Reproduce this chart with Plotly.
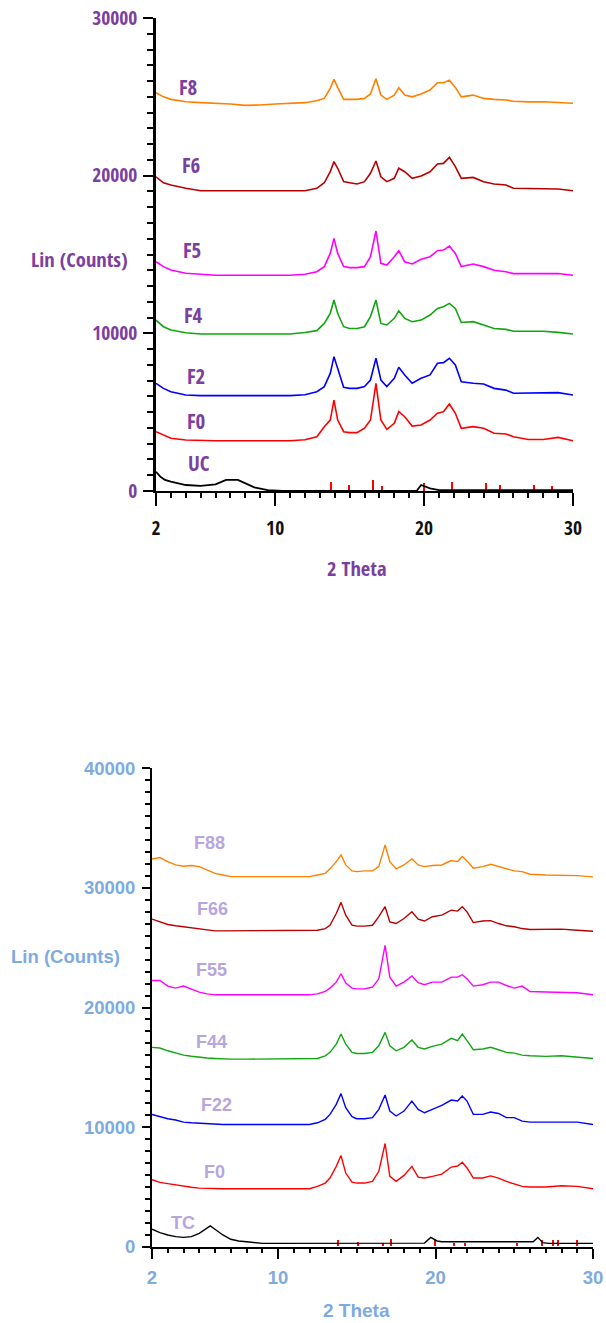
import plotly.graph_objects as go

# ---------------- top panel data (2 Theta vs Lin Counts) ----------------
TOP_X = [2, 2.5, 3, 4, 5, 6, 7, 8, 9, 10, 11, 12, 12.8, 13.3, 13.7, 13.95, 14.2, 14.6, 15, 15.5,
         16, 16.4, 16.77, 17.1, 17.5, 18, 18.3, 18.7, 19.2, 19.8, 20.4, 20.9, 21.3, 21.7, 22.1, 22.5,
         23.3, 24, 24.7, 25.5, 26, 27, 28, 29, 30]

top_f8 = [25260, 25000, 24840, 24690, 24630, 24590, 24550, 24460, 24480, 24550,
          24570, 24630, 24750, 24900, 25540, 26110, 25600, 24840, 24840, 24840,
          24900, 25180, 26150, 25110, 24840, 25110, 25580, 25110, 25000, 25180,
          25430, 25890, 25890, 26060, 25600, 25000, 25110, 24900, 24840, 24800,
          24720, 24680, 24690, 24630, 24590]
top_f6 = [19930, 19550, 19410, 19200, 19045, 19045, 19045, 19045, 19045, 19045,
          19045, 19045, 19200, 19550, 20250, 20890, 20470, 19620, 19550, 19470,
          19620, 20150, 20930, 19930, 19620, 19830, 20470, 20250, 19830, 19980,
          20250, 20740, 20780, 21160, 20570, 19830, 19890, 19620, 19470, 19410,
          19200, 19180, 19200, 19150, 19045]
top_f5 = [14540, 14230, 14020, 13810, 13750, 13680, 13680, 13680, 13680, 13680,
          13680, 13750, 13910, 14230, 15070, 16020, 15070, 14230, 14170, 14170,
          14230, 14860, 16490, 14440, 14330, 14860, 15240, 14540, 14400, 14700,
          14860, 15240, 15280, 15540, 15070, 14230, 14400, 14230, 14000, 13910,
          13790, 13790, 13790, 13790, 13680]
top_f4 = [10840, 10420, 10210, 10040, 9960, 9960, 9960, 9920, 9920, 9960,
          9960, 10050, 10170, 10630, 11270, 12110, 11270, 10420, 10310, 10310,
          10420, 11060, 12110, 10630, 10530, 10950, 11430, 10950, 10740, 10840,
          11160, 11580, 11690, 11900, 11580, 10690, 10740, 10530, 10310, 10250,
          10130, 10130, 10130, 10060, 9960]
top_f2 = [6830, 6510, 6300, 6090, 6050, 6050, 6050, 6050, 6050, 6050,
          6050, 6100, 6300, 6620, 7460, 8520, 7780, 6580, 6510, 6510,
          6620, 7040, 8420, 7040, 6620, 7150, 7850, 7360, 6830, 7150,
          7360, 8100, 8140, 8420, 7990, 6930, 6830, 6790, 6510, 6400,
          6200, 6200, 6200, 6240, 6090]
top_f0 = [3760, 3550, 3340, 3230, 3190, 3190, 3190, 3190, 3190, 3190,
          3190, 3250, 3440, 4080, 4500, 5770, 4500, 3760, 3700, 3700,
          3980, 4500, 6830, 4500, 3910, 4290, 5030, 4710, 4120, 4190,
          4500, 4930, 5030, 5520, 4930, 3980, 4080, 3980, 3660, 3620,
          3440, 3270, 3270, 3400, 3190]
UC_X = [2, 2.3, 2.6, 3, 4, 5, 6, 6.7, 7.5, 8, 8.6, 9.5, 10.5, 19.5, 19.8, 20.4, 21, 30]
top_uc = [1220, 900, 700, 590, 380, 320, 420, 700, 700, 490, 230, 60, 0, 0, 380, 170, 60, 60]
TOP_STICK_X = [13.8, 14.96, 16.6, 17.2, 20.0, 21.9, 24.2, 25.1, 27.4, 28.6]
TOP_STICK_H = [600, 400, 700, 300, 500, 600, 500, 400, 350, 300]

TOP_LABELS = ["F8", "F6", "F5", "F4", "F2", "F0", "UC"]
TOP_LABEL_X = [4.15, 4.35, 4.42, 4.49, 4.69, 4.69, 4.89]
TOP_LABEL_Y = [25620, 20670, 15290, 11180, 7310, 4440, 1760]

# ---------------- bottom panel data ----------------
BOT_X = [2, 2.5, 3, 3.5, 4, 4.5, 5, 5.5, 6, 6.5, 7, 8, 9, 10, 11, 12, 12.5, 13, 13.3, 13.7,
         14.0, 14.3, 14.7, 15, 15.5, 16, 16.4, 16.8, 17.1, 17.5, 18, 18.5, 18.9, 19.3, 19.8, 20.4,
         21.0, 21.4, 21.7, 22.0, 22.4, 23, 23.5, 24, 24.5, 25, 25.5, 26, 27, 28, 29, 30]

bot_f88 = [32420, 32540, 32200, 31920, 31810, 31870, 31780, 31500, 31220, 31080,
           30940, 30940, 30940, 30940, 30940, 30940, 31080, 31220, 31590, 32200,
           32760, 31920, 31420, 31360, 31420, 31420, 31780, 33600, 32200, 31590,
           31920, 32420, 31920, 31780, 31870, 31920, 32290, 32200, 32620, 32260,
           31640, 31780, 31980, 31780, 31590, 31420, 31360, 31140, 31080, 31080,
           31030, 30920]
bot_f66 = [27390, 27160, 26940, 26830, 26750, 26680, 26600, 26460, 26410, 26410,
           26410, 26410, 26410, 26410, 26410, 26410, 26460, 26600, 26880, 27860,
           28790, 27720, 26880, 26800, 26800, 26880, 27590, 28430, 27160, 27020,
           27440, 28000, 27390, 27230, 27590, 27720, 28140, 28060, 28430, 28000,
           27100, 27230, 27260, 27020, 26830, 26750, 26600, 26520, 26520, 26550,
           26460, 26380]
bot_f55 = [22260, 22260, 21790, 21620, 21790, 21560, 21290, 21140, 21060, 21060,
           21060, 21060, 21060, 21060, 21060, 21060, 21140, 21340, 21620, 22120,
           22820, 22040, 21620, 21560, 21560, 21710, 22400, 25200, 22540, 21790,
           22120, 22630, 22070, 21900, 22120, 22120, 22540, 22540, 22740, 22400,
           21790, 21900, 22120, 22120, 21840, 21620, 21790, 21340, 21290, 21290,
           21230, 21060]
bot_f44 = [16670, 16610, 16380, 16190, 16020, 15920, 15830, 15780, 15740, 15700,
           15680, 15680, 15680, 15680, 15680, 15680, 15740, 15960, 16250, 16940,
           17780, 16940, 16250, 16160, 16160, 16250, 16800, 17920, 16800, 16380,
           16670, 17280, 16670, 16530, 16750, 16940, 17420, 17230, 17780, 17230,
           16470, 16530, 16670, 16470, 16250, 16190, 16020, 15960, 15910, 15960,
           15830, 15740]
bot_f22 = [11060, 10870, 10700, 10590, 10420, 10360, 10310, 10260, 10220, 10220,
           10220, 10220, 10220, 10220, 10220, 10220, 10360, 10650, 11060, 11900,
           12800, 11620, 10870, 10700, 10700, 10790, 11480, 12690, 11340, 10930,
           11340, 12180, 11480, 11200, 11480, 11820, 12260, 12180, 12600, 12180,
           11060, 11060, 11260, 11140, 10790, 10790, 10500, 10420, 10420, 10450,
           10420, 10220]
bot_f0 = [5600, 5380, 5270, 5150, 5040, 4970, 4900, 4870, 4850, 4850,
          4850, 4850, 4850, 4850, 4850, 4850, 5040, 5320, 5740, 6720,
          7620, 6160, 5400, 5320, 5320, 5460, 6300, 8630, 5880, 5460,
          5960, 6720, 5820, 5740, 5880, 6070, 6660, 6750, 7060, 6580,
          5740, 5740, 5920, 5740, 5460, 5270, 5040, 4990, 4990, 5090,
          5040, 4850]
TC_X = [2.0, 2.5, 3, 3.5, 4, 4.5, 5, 5.5, 5.7, 6, 6.5, 7, 7.5, 8, 9,
        19.3, 19.7, 20.1, 20.4, 26.2, 26.5, 26.8, 27.2, 30]
bot_tc = [1460, 1180, 980, 840, 780, 840, 1120, 1540, 1740, 1460, 980, 620, 480, 420, 280,
          300, 780, 480, 420, 420, 780, 340, 280, 280]
BOT_STICK_X = [13.8, 15.1, 16.7, 17.2, 20.0, 21.2, 21.9, 25.2, 26.8, 27.5, 27.8, 29.0]
BOT_STICK_H = [500, 400, 300, 600, 500, 300, 300, 300, 500, 500, 500, 500]

BOT_LABELS = ["F88", "F66", "F55", "F44", "F22", "F0", "TC"]
BOT_LABEL_X = [5.62, 5.84, 5.75, 5.75, 6.11, 5.96, 3.99]
BOT_LABEL_Y = [33740, 28240, 23100, 17110, 11820, 6270, 1960]

X_TICKS = [2, 10, 20, 30]
X_MID_TICKS = [5, 15, 25]
TOP_Y_TICKS = [0, 10000, 20000, 30000]
BOT_Y_TICKS = [0, 10000, 20000, 30000, 40000]

# ---------------- styles ----------------
W, H = 606, 1323
ORANGE, DARKRED, MAGENTA, GREEN, BLUE, RED, BLACK = (
    "#FF8000", "#B80000", "#FF00FF", "#11A611", "#0000FF", "#FF0000", "#000000")
PURPLE = "#7B3FA0"
LIGHTBLUE = "#7EAAE2"
LIGHTPURPLE = "#B7A6DD"
NARROW = "Liberation Sans Narrow, Noto Sans Condensed, Open Sans Condensed, DejaVu Sans Condensed, sans-serif"
WIDE = "Liberation Sans, Arial, sans-serif"
TOPSIZE = 19.5

fig = go.Figure()

top_series = [(top_f8, ORANGE), (top_f6, DARKRED), (top_f5, MAGENTA), (top_f4, GREEN),
              (top_f2, BLUE), (top_f0, RED)]
for ys, col in top_series:
    fig.add_trace(go.Scatter(x=TOP_X, y=ys, mode="lines", line=dict(color=col, width=1.6),
                             xaxis="x", yaxis="y", showlegend=False, hoverinfo="skip"))
fig.add_trace(go.Scatter(x=UC_X, y=top_uc, mode="lines", line=dict(color=BLACK, width=1.8),
                         xaxis="x", yaxis="y", showlegend=False, hoverinfo="skip"))
fig.add_trace(go.Bar(x=TOP_STICK_X, y=TOP_STICK_H, width=0.1, marker=dict(color=RED, line=dict(width=0)),
                     xaxis="x", yaxis="y", showlegend=False, hoverinfo="skip"))

bot_series = [(bot_f88, ORANGE), (bot_f66, DARKRED), (bot_f55, MAGENTA), (bot_f44, GREEN),
              (bot_f22, BLUE), (bot_f0, RED)]
for ys, col in bot_series:
    fig.add_trace(go.Scatter(x=BOT_X, y=ys, mode="lines", line=dict(color=col, width=1.4),
                             xaxis="x2", yaxis="y2", showlegend=False, hoverinfo="skip"))
fig.add_trace(go.Scatter(x=TC_X, y=bot_tc, mode="lines", line=dict(color=BLACK, width=1.4),
                         xaxis="x2", yaxis="y2", showlegend=False, hoverinfo="skip"))
fig.add_trace(go.Bar(x=BOT_STICK_X, y=BOT_STICK_H, width=0.1, marker=dict(color=RED, line=dict(width=0)),
                     xaxis="x2", yaxis="y2", showlegend=False, hoverinfo="skip"))

annotations = []
for t, x, y in zip(TOP_LABELS, TOP_LABEL_X, TOP_LABEL_Y):
    annotations.append(dict(text=t, x=x, y=y, xref="x", yref="y", showarrow=False,
                            xanchor="center", yanchor="middle",
                            font=dict(family=NARROW, size=21, color=PURPLE, weight="bold")))
for t, x, y in zip(BOT_LABELS, BOT_LABEL_X, BOT_LABEL_Y):
    annotations.append(dict(text=t, x=x, y=y, xref="x2", yref="y2", showarrow=False,
                            xanchor="center", yanchor="middle",
                            font=dict(family=WIDE, size=18, color=LIGHTPURPLE, weight="bold")))

annotations += [
    dict(text="Lin (Counts)", x=80 / W, y=1 - 259 / H, xref="paper", yref="paper", showarrow=False,
         xanchor="center", yanchor="middle",
         font=dict(family=NARROW, size=20.5, color=PURPLE, weight="bold")),
    dict(text="2 Theta", x=356 / W, y=1 - 568 / H, xref="paper", yref="paper", showarrow=False,
         xanchor="center", yanchor="middle",
         font=dict(family=NARROW, size=20.5, color=PURPLE, weight="bold")),
    dict(text="Lin (Counts)", x=65 / W, y=1 - 956 / H, xref="paper", yref="paper", showarrow=False,
         xanchor="center", yanchor="middle",
         font=dict(family=WIDE, size=18.5, color=LIGHTBLUE, weight="bold")),
    dict(text="2 Theta", x=356 / W, y=1 - 1310 / H, xref="paper", yref="paper", showarrow=False,
         xanchor="center", yanchor="middle",
         font=dict(family=WIDE, size=19, color=LIGHTBLUE, weight="bold")),
]

TOP_XDOM = [156 / W, 573 / W]
TOP_YDOM = [1 - 491 / H, 1 - 18 / H]
BOT_XDOM = [152 / W, 593 / W]
BOT_YDOM = [1 - 1246.7 / H, 1 - 768.3 / H]

common = dict(showgrid=False, zeroline=False, showline=True, linecolor="black", automargin=False,
              ticks="outside", tickcolor="black", tickwidth=2, tickmode="array")

fig.update_layout(
    width=W, height=H, autosize=False,
    margin=dict(l=0, r=0, t=0, b=0, pad=0, autoexpand=False),
    paper_bgcolor="white", plot_bgcolor="white",
    showlegend=False, bargap=0,
    annotations=annotations,
    xaxis=dict(domain=TOP_XDOM, range=[2, 30], anchor="y", linewidth=2,
               tickvals=X_TICKS, ticktext=[str(v) for v in X_TICKS], ticklen=13, ticklabelstandoff=6,
               tickfont=dict(family=NARROW, size=TOPSIZE, color="#111111", weight="bold"),
               minor=dict(ticks="outside", tickmode="linear", tick0=2, dtick=1, ticklen=5,
                          tickwidth=2, tickcolor="black", showgrid=False),
               **common),
    xaxis3=dict(domain=TOP_XDOM, range=[2, 30], anchor="y", overlaying="x", showgrid=False,
                zeroline=False, showline=False, ticks="outside", tickmode="array", automargin=False,
                tickvals=X_MID_TICKS, ticklen=9, tickwidth=2, tickcolor="black", showticklabels=False),
    yaxis=dict(domain=TOP_YDOM, range=[0, 30000], anchor="x", linewidth=2.5,
               tickvals=TOP_Y_TICKS, ticktext=[str(v) for v in TOP_Y_TICKS], ticklen=10,
               ticklabelstandoff=2,
               tickfont=dict(family=NARROW, size=TOPSIZE, color=PURPLE, weight="bold"),
               minor=dict(ticks="outside", tickmode="linear", tick0=0, dtick=1000, ticklen=6,
                          tickwidth=2, tickcolor="black", showgrid=False),
               **common),
    xaxis2=dict(domain=BOT_XDOM, range=[2, 30], anchor="y2", linewidth=2,
                tickvals=X_TICKS, ticktext=[str(v) for v in X_TICKS], ticklen=10, ticklabelstandoff=3,
                tickfont=dict(family=WIDE, size=18.5, color=LIGHTBLUE, weight="bold"),
                minor=dict(ticks="outside", tickmode="linear", tick0=2, dtick=1, ticklen=4,
                           tickwidth=1.5, tickcolor="black", showgrid=False),
                **common),
    xaxis4=dict(domain=BOT_XDOM, range=[2, 30], anchor="y2", overlaying="x2", showgrid=False,
                zeroline=False, showline=False, ticks="outside", tickmode="array", automargin=False,
                tickvals=X_MID_TICKS, ticklen=7, tickwidth=2, tickcolor="black", showticklabels=False),
    yaxis2=dict(domain=BOT_YDOM, range=[0, 40000], anchor="x2", linewidth=1.8,
                tickvals=BOT_Y_TICKS, ticktext=[str(v) for v in BOT_Y_TICKS], ticklen=8,
                ticklabelstandoff=3,
                tickfont=dict(family=WIDE, size=18.5, color=LIGHTBLUE, weight="bold"),
                minor=dict(ticks="outside", tickmode="linear", tick0=0, dtick=1000, ticklen=5,
                           tickwidth=1.5, tickcolor="black", showgrid=False),
                **common),
)

fig.write_html("out.html", config={"displayModeBar": False},
               post_script="document.body.style.margin='0px';"
                           "document.body.style.overflow='hidden';")
